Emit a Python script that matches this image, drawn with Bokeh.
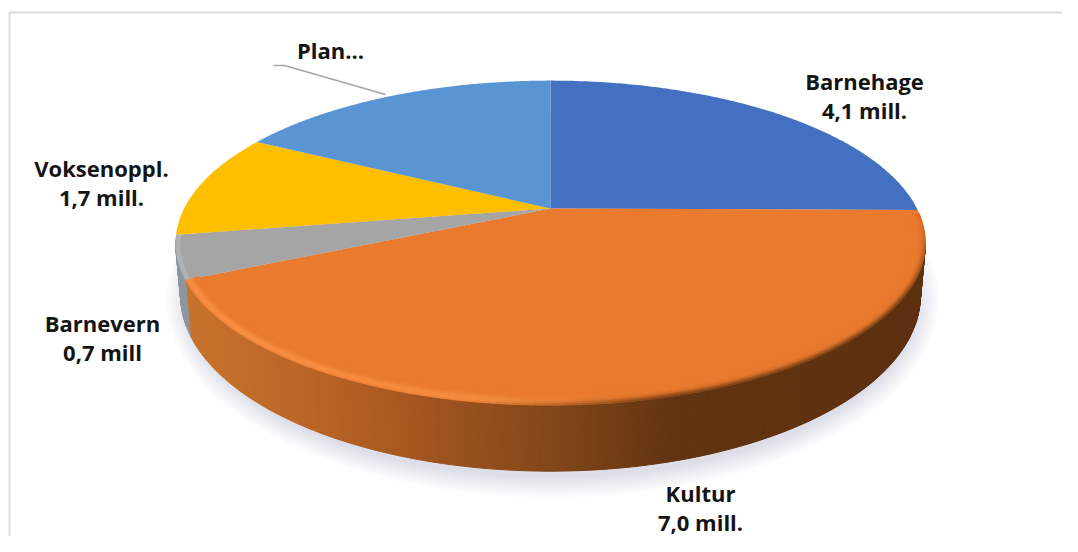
import numpy as np
from bokeh.embed import file_html
from bokeh.resources import INLINE
from bokeh.models import Range1d
from bokeh.plotting import figure
from bokeh.core.properties import value

categories = ["Barnehage", "Kultur", "Barnevern", "Voksenoppl.", "Plan"]
values = [4.1, 7.0, 0.7, 1.7, 2.8]   # million NOK, clockwise from 12 o'clock
colors = ["#4370c0", "#e97a2e", "#a5a5a5", "#fdbf00", "#5995d3"]
label_lines = [["Barnehage", "4,1 mill."], ["Kultur", "7,0 mill."],
               ["Barnevern", "0,7 mill"], ["Voksenoppl.", "1,7 mill."], ["Plan..."]]
label_centers = [(864, 80), (700, 492), (102, 322), (101, 167), (330, 49)]

# perspective geometry of the pie, in page pixels
APEX = (550.0, 208.0)
A, B, K = 366.4, 155.0, 0.212
TOP_C, TOP_R = (550.0, 242.5), (375.0, 162.5)
BOT_C, BOT_R = (550.0, 295.0), (370.0, 176.0)

def project(t):
    d = 1 + K * np.cos(t)
    return APEX[0] + A * np.sin(t) / d, APEX[1] - B * np.cos(t) / d

def to_bottom(x, y):
    return (BOT_C[0] + (x - TOP_C[0]) * BOT_R[0] / TOP_R[0],
            BOT_C[1] + (y - TOP_C[1]) * BOT_R[1] / TOP_R[1])

def inset(x, y, d):
    return (TOP_C[0] + (x - TOP_C[0]) * (TOP_R[0] - d) / TOP_R[0],
            TOP_C[1] + (y - TOP_C[1]) * (TOP_R[1] - d) / TOP_R[1])

def hexcol(rgb):
    return "#%02x%02x%02x" % tuple(int(round(max(0, min(255, c)))) for c in rgb)

def rgb(h):
    return np.array([int(h[i:i + 2], 16) for i in (1, 3, 5)], dtype=float)

edges = np.concatenate([[0], np.cumsum(values)]) / sum(values) * 2 * np.pi

p = figure(width=1062, height=536, output_backend="svg", toolbar_location=None,
           x_range=Range1d(0, 1062), y_range=Range1d(536, 0),
           x_axis_location=None, y_axis_location=None, min_border=0,
           background_fill_color="white", border_fill_color="white", outline_line_color=None)
p.grid.visible = False

# frame
p.line([1062, 9, 9], [12, 12, 536], line_color="#dcdcdc", line_width=2)

# soft shadow under the disc
for g in np.arange(22, 0, -2.0):
    p.ellipse(x=BOT_C[0] + 2, y=BOT_C[1] + 4, width=2 * (BOT_R[0] + g - 6), height=2 * (BOT_R[1] + g),
              fill_color="#8f96a8", fill_alpha=0.028, line_color=None)

# side wall
tt = np.linspace(0, 2 * np.pi, 1441)
xt, _ = project(tt)
t_right = tt[np.argmax(xt)]
t_left = tt[np.argmin(xt)]

qx, qy, qc = [], [], []
def wall(t0, t1, colfun, n):
    ts = np.linspace(t0, t1, n + 1)
    for a, b in zip(ts[:-1], ts[1:]):
        xa, ya = project(a); xb, yb = project(b)
        xa2, ya2 = to_bottom(xa, ya); xb2, yb2 = to_bottom(xb, yb)
        qx.append([xa, xb, xb2, xa2]); qy.append([ya, yb, yb2, ya2])
        qc.append(colfun((xa + xb) / 2))

stops_x = [185, 300, 400, 560, 680, 925]
stops = np.array([rgb(c) for c in ["#c8722b", "#bb6626", "#a8581f", "#7f4519", "#613310", "#5c3010"]])
def orange_wall(x):
    return hexcol([np.interp(x, stops_x, stops[:, i]) for i in range(3)])

wall(t_right, edges[2], orange_wall, 200)
wall(edges[2], t_left + 0.02, lambda x: "#8d969e", 14)
p.patches(qx, qy, fill_color=qc, line_color=qc, line_width=1.0)

# top surfaces
for c, a, b in zip(colors, edges[:-1], edges[1:]):
    ts = np.linspace(a, b, 160)
    x, y = project(ts)
    p.patch(np.r_[APEX[0], x], np.r_[APEX[1], y], fill_color=c, line_color=None)

# bevel along the front rim
bx, by, bc = [], [], []
depths = np.arange(0, 15, 2.0)
base = rgb(colors[1])
light, dark = rgb("#fb9246"), rgb("#633510")
ts = np.linspace(edges[1] + 0.02, edges[2], 130)
for d0, d1 in zip(depths[:-1], depths[1:]):
    dm = (d0 + d1) / 2
    lamount = np.exp(-((dm - 4) / 4.0) ** 2)
    damount = np.exp(-(dm / 4.0) ** 2)
    for a, b in zip(ts[:-1], ts[1:]):
        xa, ya = project(a); xb, yb = project(b)
        x0a, y0a = inset(xa, ya, d0); x0b, y0b = inset(xb, yb, d0)
        x1a, y1a = inset(xa, ya, d1); x1b, y1b = inset(xb, yb, d1)
        xm, ym = (xa + xb) / 2, (ya + yb) / 2
        lw = np.interp(xm, [190, 500, 620], [0.9, 0.75, 0]) * lamount
        dw = np.interp(xm, [470, 660, 925], [0, 0.8, 0.8]) * damount * np.interp(ym, [225, 300], [0.2, 1])
        col = base + (light - base) * lw
        col = col + (dark - col) * dw
        bx.append([x0a, x0b, x1b, x1a]); by.append([y0a, y0b, y1b, y1a]); bc.append(hexcol(col))
p.patches(bx, by, fill_color=bc, line_color=bc, line_width=0.8)

# lighter lip on the grey slice
ts = np.linspace(edges[2], edges[3], 30)
x, y = project(ts)
xi, yi = inset(x, y, 5)
p.patch(np.r_[x, xi[::-1]], np.r_[y, yi[::-1]], fill_color="#afb1b3", line_color=None)

# leader for Plan
p.line([273, 284, 385], [65, 65, 94], line_color="#a6a6a6", line_width=1.6)

# labels
for lines, (cx, cy) in zip(label_lines, label_centers):
    for i, s in enumerate(lines):
        p.text(x=[cx], y=[cy + 29 * i], text=[s], text_align="center", text_baseline="middle",
               text_font=value("Open Sans"), text_font_style="bold", text_font_size="22px",
               text_color="#141414")

open("out.html", "w").write(file_html(p, INLINE))
